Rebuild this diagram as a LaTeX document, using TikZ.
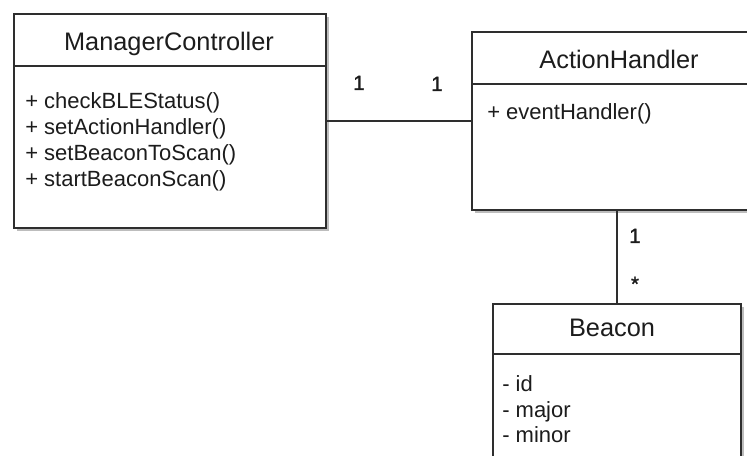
\documentclass[tikz,border=0pt]{standalone}
\usepackage{fontspec}
\setmainfont{Liberation Sans}
\newfontfamily\multfont[FakeBold=1.2]{Liberation Sans}
\usetikzlibrary{shadows}
\definecolor{umlline}{HTML}{2E2E2E}
\definecolor{umltext}{HTML}{1C1C1C}
\definecolor{umlshadow}{HTML}{BDBDBD}
\tikzset{
  classbox/.style={draw=umlline, line width=1.4pt, fill=white, anchor=north west,
    inner sep=0pt, drop shadow={shadow xshift=2.2pt, shadow yshift=-2.2pt,
    fill=umlshadow, opacity=1}},
  classname/.style={font=\fontsize{19}{22}\selectfont, text=umltext, anchor=base, inner sep=0pt},
  member/.style={font=\fontsize{16.5}{19.5}\selectfont, text=umltext, anchor=base west, inner sep=0pt},
  divider/.style={draw=umlline, line width=1.4pt},
  assoc/.style={draw=umlline, line width=1.3pt},
  mult/.style={font=\multfont\fontsize{15.5}{18}\selectfont, text=umltext, anchor=base, inner sep=0pt}
}
\begin{document}
\begin{tikzpicture}[x=0.75pt, y=-0.75pt]
  \clip (0,0) rectangle (747,456);
  \fill[white] (0,0) rectangle (747,456);

  % class boxes
  \node[classbox, minimum width=234pt, minimum height=160.5pt] (mc) at (13,13) {};
  \node[classbox, minimum width=222pt, minimum height=133.5pt] (ah) at (471,31) {};
  \node[classbox, minimum width=186pt, minimum height=150pt] (bc) at (492,303) {};

  % compartment dividers
  \coordinate (mcdiv) at (0,66);
  \coordinate (ahdiv) at (0,84);
  \coordinate (bcdiv) at (0,354);
  \draw[divider] (mc.west |- mcdiv) -- (mc.east |- mcdiv);
  \draw[divider] (ah.west |- ahdiv) -- (ah.east |- ahdiv);
  \draw[divider] (bc.west |- bcdiv) -- (bc.east |- bcdiv);

  % ManagerController
  \node[classname] (mcname) at (169,51) {ManagerController};
  \node[member] (mc1) at (25,109) {+ checkBLEStatus()};
  \node[member] (mc2) at (25,135) {+ setActionHandler()};
  \node[member] (mc3) at (25,161) {+ setBeaconToScan()};
  \node[member] (mc4) at (25,187) {+ startBeaconScan()};

  % ActionHandler
  \node[classname] (ahname) at (619,69) {ActionHandler};
  \node[member] (ah1) at (487,120) {+ eventHandler()};

  % Beacon
  \node[classname] (bcname) at (612,337) {Beacon};
  \node[member] (bc1) at (502,392) {- id};
  \node[member] (bc2) at (502,417) {- major};
  \node[member] (bc3) at (502,442) {- minor};

  % associations
  \draw[assoc] (mc.east) -- (ah.west);
  \draw[assoc] (bc.north |- ah.south) -- (bc.north);

  % multiplicities
  \node[mult] (m1) at (359,90) {1};
  \node[mult] (m2) at (437,91) {1};
  \node[mult] (m3) at (635,243) {1};
  \node[mult] (m4) at (635,291) {*};
\end{tikzpicture}
\end{document}
